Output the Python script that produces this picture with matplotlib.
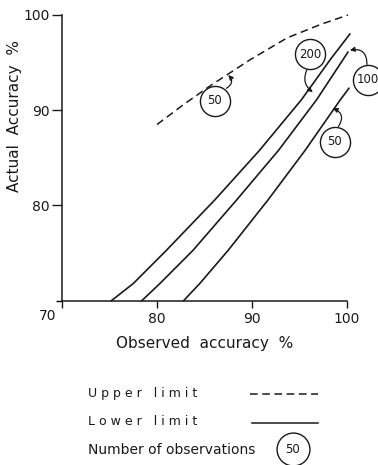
import matplotlib
matplotlib.use('Agg')
import matplotlib.pyplot as plt
from matplotlib.lines import Line2D

# upper limit (dashed), 50 observations
upper_x = [80.0, 82.8, 85.8, 89.8, 93.7, 97.2, 100.1]
upper_y = [88.5, 90.6, 92.7, 95.3, 97.6, 99.0, 100.0]

# lower limits (solid) for 200, 100 and 50 observations
lower_200_x = [75.2, 77.5, 81.0, 86.1, 90.8, 95.2, 98.3, 100.3]
lower_200_y = [70.0, 71.8, 75.3, 80.6, 85.8, 91.1, 95.4, 98.0]
lower_100_x = [78.4, 80.3, 83.8, 88.4, 92.8, 96.8, 100.1]
lower_100_y = [70.0, 71.8, 75.3, 80.6, 85.8, 91.1, 96.1]
lower_50_x = [82.8, 84.5, 87.5, 91.7, 95.6, 99.3, 100.2]
lower_50_y = [70.0, 71.8, 75.3, 80.6, 85.8, 91.1, 92.3]

ticks = [70, 80, 90, 100]
tick_labels = ['', '80', '90', '100']

# circled labels: (text, circle centre, arrow tail, arrow head, curvature)
labels = [
    ('50', (86.1, 91.0), (87.3, 92.3), (87.5, 93.7), 0.6),
    ('200', (96.1, 95.9), (95.8, 94.3), (96.4, 91.9), 0.4),
    ('100', (102.2, 93.2), (102.1, 94.8), (100.3, 96.3), 0.6),
    ('50', (98.7, 86.7), (99.1, 88.3), (98.5, 90.2), 0.6),
]

ink = '#1a1a1a'
plt.rcParams['font.family'] = ['DejaVu Sans']

fig = plt.figure(figsize=(3.78, 4.65), dpi=100)
ax = fig.add_axes([62 / 378, 1 - 300.7 / 465, 285 / 378, 285.7 / 465])

dash = (0, (5, 3))
ax.plot(upper_x, upper_y, color=ink, lw=1.1, linestyle=dash, clip_on=False)
for xs, ys in [(lower_200_x, lower_200_y), (lower_100_x, lower_100_y), (lower_50_x, lower_50_y)]:
    ax.plot(xs, ys, color=ink, lw=1.2, clip_on=False, solid_joinstyle='round')

for txt, centre, tail, head, rad in labels:
    ax.annotate('', xy=head, xytext=tail,
                arrowprops=dict(arrowstyle='-|>', color=ink, lw=0.9, mutation_scale=7,
                                shrinkA=0, shrinkB=0,
                                connectionstyle='arc3,rad=%s' % rad),
                annotation_clip=False)
    ax.scatter([centre[0]], [centre[1]], s=470, facecolor='white', edgecolor=ink,
               linewidth=1.0, zorder=5, clip_on=False)
    ax.text(centre[0], centre[1], txt, ha='center', va='center', fontsize=8.5,
            color=ink, zorder=6, clip_on=False)

ax.set_xlim(70, 100)
ax.set_ylim(70, 100)
for side in ['top', 'right']:
    ax.spines[side].set_visible(False)
for side in ['left', 'bottom']:
    ax.spines[side].set_linewidth(1.1)
    ax.spines[side].set_color(ink)

ax.set_xticks(ticks)
ax.set_xticklabels(tick_labels)
ax.set_yticks(ticks[1:])
ax.set_yticklabels(tick_labels[1:])
ax.set_yticks([70], minor=True)
ax.tick_params(axis='x', direction='out', length=5, width=1.0, pad=3, labelsize=10, colors=ink)
ax.tick_params(axis='y', direction='out', length=7, width=1.0, pad=2, labelsize=10, colors=ink)
ax.tick_params(axis='y', which='minor', length=4, width=1.0)
ax.annotate('70', xy=(70, 70), xytext=(-10, -11), textcoords='offset points',
            ha='center', va='center', fontsize=10, color=ink, annotation_clip=False)

fig.text(205 / 378, 1 - 343 / 465, 'Observed  accuracy  %', ha='center', va='center',
         fontsize=11, color=ink)
fig.text(15 / 378, 1 - 116 / 465, 'Actual  Accuracy  %', ha='center', va='center',
         rotation=90, fontsize=11, color=ink)

# legend block
fig.text(88 / 378, 1 - 393 / 465, 'U p p e r   l i m i t', ha='left', va='center',
         fontsize=9, color=ink)
fig.text(88 / 378, 1 - 421 / 465, 'L o w e r   l i m i t', ha='left', va='center',
         fontsize=9, color=ink)
fig.text(88 / 378, 1 - 450 / 465, 'Number of observations', ha='left', va='center',
         fontsize=10, color=ink)
fig.add_artist(Line2D([250 / 378, 318 / 378], [1 - 394 / 465, 1 - 394 / 465],
                      color=ink, lw=1.1, linestyle=dash))
fig.add_artist(Line2D([252 / 378, 318 / 378], [1 - 423 / 465, 1 - 423 / 465],
                      color=ink, lw=1.1))
legend_ax = fig.add_axes([0, 0, 1, 1], facecolor='none')
legend_ax.set_xlim(0, 378)
legend_ax.set_ylim(465, 0)
legend_ax.axis('off')
legend_ax.scatter([293], [449], s=560, facecolor='white', edgecolor=ink, linewidth=1.0)
legend_ax.text(293, 449, '50', ha='center', va='center', fontsize=8.5, color=ink)

fig.savefig('out.png', dpi=100, facecolor='white')
